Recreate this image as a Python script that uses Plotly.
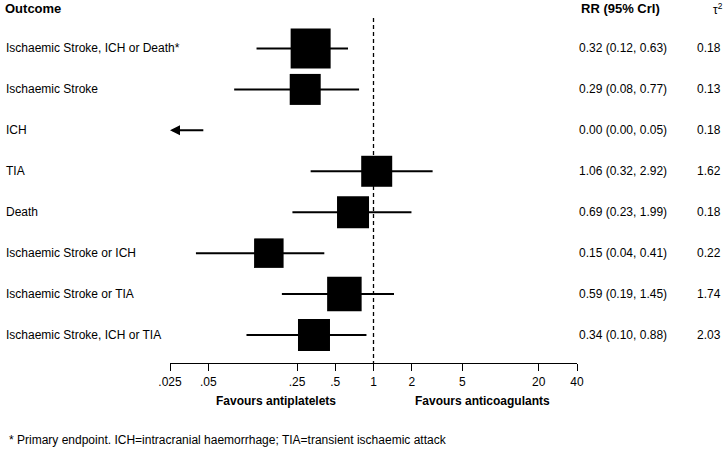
import math
import plotly.graph_objects as go

# ---- data ----
outcomes = [
    "Ischaemic Stroke, ICH or Death*",
    "Ischaemic Stroke",
    "ICH",
    "TIA",
    "Death",
    "Ischaemic Stroke or ICH",
    "Ischaemic Stroke or TIA",
    "Ischaemic Stroke, ICH or TIA",
]
rr = [0.32, 0.29, 0.00, 1.06, 0.69, 0.15, 0.59, 0.34]
lo = [0.12, 0.08, 0.00, 0.32, 0.23, 0.04, 0.19, 0.10]
hi = [0.63, 0.77, 0.047, 2.92, 1.99, 0.41, 1.45, 0.88]
tau2 = [0.18, 0.13, 0.18, 1.62, 0.18, 0.22, 1.74, 2.03]

tick_vals = [0.025, 0.05, 0.25, 0.5, 1, 2, 5, 20, 40]
tick_text = [".025", ".05", ".25", ".5", "1", "2", "5", "20", "40"]
x_min, x_max = 0.025, 40

# ---- styles ----
W, H = 727, 451
box_px = [40, 31, 0, 31, 32, 29.5, 34.5, 32]
FONT = "Liberation Sans, Arial, Helvetica, sans-serif"
plot_top, plot_bottom = 18, 363
row_y = [-k for k in range(len(outcomes))]
y_rng = [-7.684, 0.745]

def px_to_paper_y(p):
    return (plot_bottom - p) / (plot_bottom - plot_top)

fig = go.Figure()

# reference line at RR = 1
fig.add_trace(go.Scatter(
    x=[1, 1], y=[y_rng[1], y_rng[0]], mode="lines",
    line=dict(color="#000000", width=1.3, dash="4px,3px"),
    hoverinfo="skip", showlegend=False, cliponaxis=False))

# CI lines
cx, cy = [], []
for i in range(len(outcomes)):
    if lo[i] > 0:
        cx += [lo[i], hi[i], None]
        cy += [row_y[i], row_y[i], None]
fig.add_trace(go.Scatter(x=cx, y=cy, mode="lines",
                         line=dict(color="#000000", width=2),
                         hoverinfo="skip", showlegend=False))

# boxes
bx = [rr[i] for i in range(len(rr)) if rr[i] > 0]
byy = [row_y[i] for i in range(len(rr)) if rr[i] > 0]
bs = [box_px[i] for i in range(len(rr)) if rr[i] > 0]
fig.add_trace(go.Scatter(x=bx, y=byy, mode="markers", opacity=1,
                         marker=dict(symbol="square", size=bs, color="#000000",
                                     opacity=1, line=dict(width=0, color="#000000")),
                         hoverinfo="skip", showlegend=False))

ann = []
# arrows for estimates out of range
for i in range(len(outcomes)):
    if lo[i] <= 0:
        ann.append(dict(x=math.log10(x_min), y=row_y[i], xref="x", yref="y",
                        ax=math.log10(hi[i]), ay=row_y[i], axref="x", ayref="y",
                        text="", showarrow=True, arrowhead=2, arrowsize=1,
                        arrowwidth=2, arrowcolor="#000000", standoff=0))

# row texts
for i in range(len(outcomes)):
    ann.append(dict(x=4 / W, y=row_y[i], xref="paper", yref="y", text=outcomes[i],
                    showarrow=False, xanchor="left", yanchor="middle",
                    font=dict(size=12, color="black", family=FONT)))
    ann.append(dict(x=577 / W, y=row_y[i], xref="paper", yref="y",
                    text=f"{rr[i]:.2f} ({lo[i]:.2f}, {hi[i]:.2f})",
                    showarrow=False, xanchor="left", yanchor="middle",
                    font=dict(size=12, color="black", family=FONT)))
    ann.append(dict(x=723 / W, y=row_y[i], xref="paper", yref="y",
                    text=f"{tau2[i]:.2f}",
                    showarrow=False, xanchor="right", yanchor="middle",
                    font=dict(size=12, color="black", family=FONT)))

# headers
ann.append(dict(x=3 / W, y=px_to_paper_y(8), xref="paper", yref="paper",
                text="<b>Outcome</b>", showarrow=False, xanchor="left", yanchor="middle",
                font=dict(size=13, color="black", family=FONT)))
ann.append(dict(x=620 / W, y=px_to_paper_y(8), xref="paper", yref="paper",
                text="<b>RR (95% CrI)</b>", showarrow=False, xanchor="center", yanchor="middle",
                font=dict(size=13, color="black", family=FONT)))
ann.append(dict(x=725 / W, y=px_to_paper_y(9), xref="paper", yref="paper",
                text="τ<sup>2</sup>", showarrow=False, xanchor="right", yanchor="middle",
                font=dict(size=12, color="black", family=FONT)))

# favours labels
ann.append(dict(x=276 / W, y=px_to_paper_y(401), xref="paper", yref="paper",
                text="<b>Favours antiplatelets</b>", showarrow=False,
                xanchor="center", yanchor="middle",
                font=dict(size=12, color="black", family=FONT)))
ann.append(dict(x=482.5 / W, y=px_to_paper_y(401), xref="paper", yref="paper",
                text="<b>Favours anticoagulants</b>", showarrow=False,
                xanchor="center", yanchor="middle",
                font=dict(size=12, color="black", family=FONT)))

# footnote
ann.append(dict(x=7 / W, y=px_to_paper_y(440), xref="paper", yref="paper",
                text="* Primary endpoint. ICH=intracranial haemorrhage; TIA=transient ischaemic attack",
                showarrow=False, xanchor="left", yanchor="middle",
                font=dict(size=12, color="black", family=FONT)))

fig.update_layout(
    width=W, height=H, autosize=False,
    margin=dict(l=0, r=0, t=plot_top, b=H - plot_bottom, pad=0, autoexpand=False),
    paper_bgcolor="white", plot_bgcolor="white",
    font=dict(family=FONT, size=12, color="black"),
    annotations=ann,
    xaxis=dict(type="log", range=[math.log10(x_min), math.log10(x_max)],
               domain=[170 / W, 577 / W],
               tickvals=tick_vals, ticktext=tick_text,
               showline=True, linecolor="black", linewidth=1.3,
               ticks="outside", ticklen=7, tickwidth=1.3, tickcolor="black",
               showgrid=False, zeroline=False, automargin=False,
               tickfont=dict(size=12, color="black", family=FONT)),
    yaxis=dict(range=y_rng, visible=False, showgrid=False, zeroline=False,
               automargin=False),
)

fig.write_html(
    "out.html",
    config={"responsive": False, "displayModeBar": False},
    post_script="document.body.style.margin='0';document.body.style.padding='0';"
                "document.documentElement.style.overflow='hidden';"
                "document.body.style.overflow='hidden';",
)
